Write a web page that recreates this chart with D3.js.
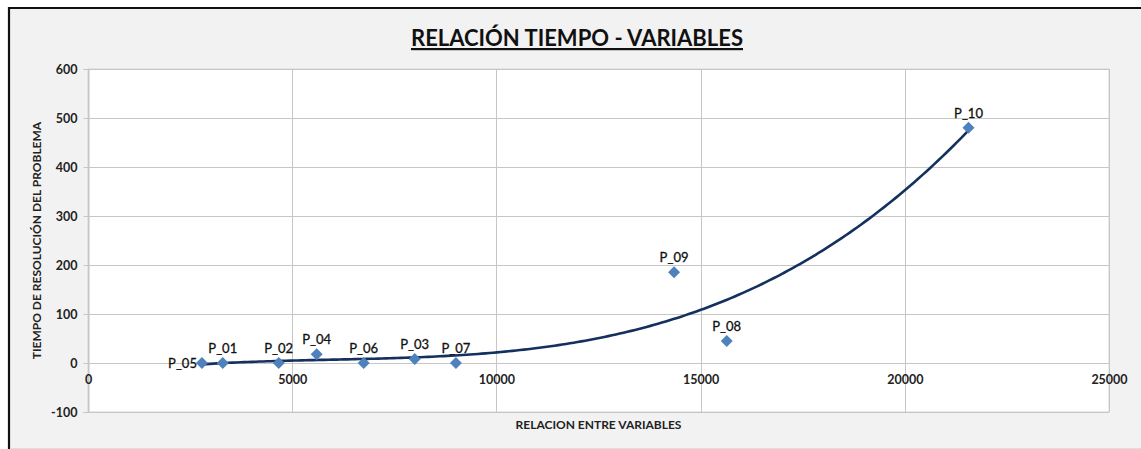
<!DOCTYPE html>
<html>
<head>
<meta charset="utf-8">
<script src="https://cdn.jsdelivr.net/npm/d3@7"></script>
<style>
  html, body { margin: 0; padding: 0; background: #ffffff; }
  svg { display: block; }
</style>
</head>
<body>
<svg id="chart" width="1141" height="449"></svg>
<script>
// Problem labels, their variable ratio (x) and resolution time (y)
const problems = ["P_05", "P_01", "P_02", "P_04", "P_06", "P_03", "P_07", "P_08", "P_09", "P_10"];
const relacion = [2790, 3300, 4670, 5600, 6750, 8000, 9010, 15640, 14350, 21560];
const tiempo   = [0, 0, 0, 18, 0, 8, 0, 45, 185, 480];

const xTicks = [0, 5000, 10000, 15000, 20000, 25000];
const yTicks = [-100, 0, 100, 200, 300, 400, 500, 600];

const titleText = "RELACIÓN TIEMPO - VARIABLES";
const xTitle = "RELACION ENTRE VARIABLES";
const yTitle = "TIEMPO DE RESOLUCIÓN DEL PROBLEMA";

const FONT = "Lato, 'Open Sans', sans-serif";

const svg = d3.select("#chart");
const W = 1141, H = 449;

// chart frame: grey panel with a dark top/left edge
svg.append("rect").attr("x", 8).attr("y", 7).attr("width", W - 8).attr("height", H - 7)
  .attr("fill", "#f2f2f2");
svg.append("path").attr("d", `M9,${H} V8 H${W}`)
  .attr("fill", "none").attr("stroke", "#111").attr("stroke-width", 2.2);
svg.append("line").attr("x1", 10).attr("x2", W).attr("y1", 448.5).attr("y2", 448.5)
  .attr("stroke", "#dddddd").attr("stroke-width", 1);

const plot = { left: 88, right: 1109, top: 69, bottom: 412 };

const x = d3.scaleLinear().domain([0, 25000]).range([plot.left, plot.right]);
const y = d3.scaleLinear().domain([-100, 600]).range([plot.bottom, plot.top]);

// plot area
svg.append("rect")
  .attr("x", plot.left).attr("y", plot.top)
  .attr("width", plot.right - plot.left).attr("height", plot.bottom - plot.top)
  .attr("fill", "#ffffff").attr("stroke", "#d4d4d4").attr("stroke-width", 1);

// gridlines
const grid = svg.append("g").attr("stroke", "#c6c6c6").attr("stroke-width", 1);
grid.selectAll("line.h").data(yTicks).join("line").attr("class", "h")
  .attr("x1", plot.left).attr("x2", plot.right)
  .attr("y1", d => Math.round(y(d)) + 0.5).attr("y2", d => Math.round(y(d)) + 0.5);
grid.selectAll("line.v").data(xTicks).join("line").attr("class", "v")
  .attr("y1", plot.top).attr("y2", plot.bottom)
  .attr("x1", d => Math.round(x(d)) + 0.5).attr("x2", d => Math.round(x(d)) + 0.5);

const plainNum = d => String(d);

// y axis with outward ticks
const yAxis = d3.axisLeft(y).tickValues(yTicks).tickSize(5).tickPadding(6).tickFormat(plainNum);
const gy = svg.append("g").attr("transform", `translate(${plot.left + 0.5},0)`).call(yAxis);
gy.select(".domain").attr("stroke", "#c6c6c6");
gy.selectAll(".tick line").attr("stroke", "#c6c6c6");
gy.selectAll(".tick text").attr("font-family", FONT).attr("font-weight", 700)
  .attr("font-size", 12.5).attr("fill", "#222");

// x axis labels sit beneath the zero line
const xAxis = d3.axisBottom(x).tickValues(xTicks).tickSize(0).tickPadding(12).tickFormat(plainNum);
const gx = svg.append("g").attr("transform", `translate(0,${y(0)})`).call(xAxis);
gx.select(".domain").remove();
gx.selectAll(".tick text").attr("font-family", FONT).attr("font-weight", 700)
  .attr("font-size", 12.5).attr("fill", "#222");

// cubic least-squares trendline through the points
function polyFit(xs, ys, order) {
  const n = order + 1;
  const s = 1e-4; // scale x to keep the normal equations well conditioned
  const A = Array.from({ length: n }, () => new Array(n + 1).fill(0));
  xs.forEach((xv, k) => {
    const u = xv * s;
    for (let i = 0; i < n; i++) {
      for (let j = 0; j < n; j++) A[i][j] += Math.pow(u, i + j);
      A[i][n] += ys[k] * Math.pow(u, i);
    }
  });
  for (let c = 0; c < n; c++) {
    let p = c;
    for (let r = c + 1; r < n; r++) if (Math.abs(A[r][c]) > Math.abs(A[p][c])) p = r;
    [A[c], A[p]] = [A[p], A[c]];
    for (let r = 0; r < n; r++) {
      if (r === c) continue;
      const f = A[r][c] / A[c][c];
      for (let j = c; j <= n; j++) A[r][j] -= f * A[c][j];
    }
  }
  const coef = A.map((row, i) => row[n] / row[i]);
  return xv => coef.reduce((acc, cf, i) => acc + cf * Math.pow(xv * s, i), 0);
}
const trend = polyFit(relacion, tiempo, 3);
const xMin = d3.min(relacion), xMax = d3.max(relacion);
const trendPts = d3.range(0, 201).map(i => {
  const xv = xMin + (xMax - xMin) * i / 200;
  return [xv, trend(xv)];
});
svg.append("path")
  .datum(trendPts)
  .attr("d", d3.line().x(d => x(d[0])).y(d => y(d[1])).curve(d3.curveLinear))
  .attr("fill", "none").attr("stroke", "#14305e").attr("stroke-width", 2.6);

// diamond markers
const pts = problems.map((p, i) => ({ name: p, x: relacion[i], y: tiempo[i] }));
svg.append("g").selectAll("path").data(pts).join("path")
  .attr("transform", d => `translate(${x(d.x)},${y(d.y)})`)
  .attr("d", "M0,-6 L6,0 L0,6 L-6,0 Z")
  .attr("fill", "#4f81bd");

// data labels: above the marker, except the first one placed to its left
svg.append("g").selectAll("text").data(pts).join("text")
  .attr("x", d => d.name === "P_05" ? x(d.x) - 5 : x(d.x))
  .attr("y", d => d.name === "P_05" ? y(d.y) + 4.5 : y(d.y) - 10)
  .attr("text-anchor", d => d.name === "P_05" ? "end" : "middle")
  .attr("font-family", FONT).attr("font-size", 13).attr("fill", "#111")
  .attr("stroke", "#111").attr("stroke-width", 0.3)
  .text(d => d.name);

// titles
svg.append("text").attr("x", 577).attr("y", 46).attr("text-anchor", "middle")
  .attr("font-family", FONT).attr("font-weight", 700).attr("font-size", 22)
  .attr("fill", "#111").attr("text-decoration", "underline")
  .text(titleText);

svg.append("text").attr("x", (plot.left + plot.right) / 2).attr("y", 429)
  .attr("text-anchor", "middle").attr("font-family", FONT).attr("font-weight", 700)
  .attr("font-size", 12).attr("fill", "#222").text(xTitle);

svg.append("text")
  .attr("transform", `translate(41,${(plot.top + plot.bottom) / 2}) rotate(-90)`)
  .attr("text-anchor", "middle").attr("font-family", FONT).attr("font-weight", 700)
  .attr("font-size", 12).attr("fill", "#222").text(yTitle);
</script>
</body>
</html>
